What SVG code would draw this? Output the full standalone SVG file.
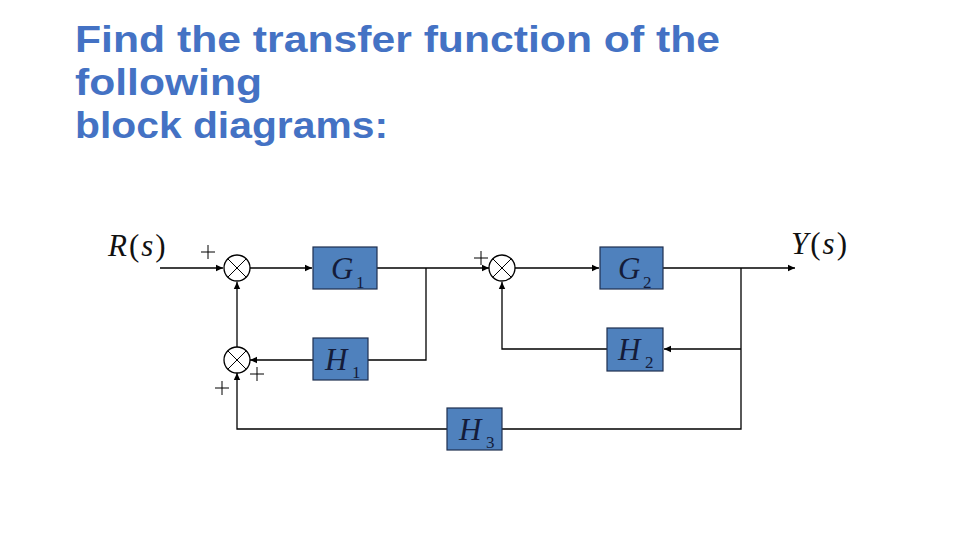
<svg xmlns="http://www.w3.org/2000/svg" width="960" height="540" viewBox="0 0 960 540">
<defs>
<marker id="arr" markerWidth="8" markerHeight="8" refX="7" refY="4" orient="auto" markerUnits="userSpaceOnUse">
<path d="M0,0.8 L7,4 L0,7.2 Z" fill="#000"/>
</marker>
<style>
.title{font-family:"Liberation Sans",Arial,sans-serif;font-weight:bold;font-size:37px;fill:#4472C4}
.box{fill:#4F81BD;stroke:#1F2F4F;stroke-width:1.2}
.lbl{font-family:"Liberation Serif",serif;font-style:italic;font-size:31px;fill:#141C3A}
.sub{font-family:"Liberation Serif",serif;font-size:17px;fill:#141C3A}
.sig{font-family:"Liberation Serif",serif;font-size:31px;fill:#111;letter-spacing:2px}
.ln{fill:none;stroke:#000;stroke-width:1.3}
.sum{fill:#fff;stroke:#000;stroke-width:1.3}
.x{stroke:#000;stroke-width:1}
.pl{stroke:#000;stroke-width:1}
</style>
</defs>
<rect width="960" height="540" fill="#fff"/>
<g id="title">
<text class="title" x="75" y="52" textLength="645" lengthAdjust="spacingAndGlyphs">Find the transfer function of the</text>
<text class="title" x="75" y="95" textLength="187" lengthAdjust="spacingAndGlyphs">following</text>
<text class="title" x="75" y="138" textLength="313" lengthAdjust="spacingAndGlyphs">block diagrams:</text>
</g>
<g id="connectors">
<line class="ln" x1="160" y1="268" x2="223" y2="268" marker-end="url(#arr)"/>
<line class="ln" x1="250" y1="268" x2="312" y2="268" marker-end="url(#arr)"/>
<polyline class="ln" points="377,268 489,268" marker-end="url(#arr)"/>
<line class="ln" x1="515" y1="268" x2="599" y2="268" marker-end="url(#arr)"/>
<line class="ln" x1="663" y1="268" x2="795" y2="268" marker-end="url(#arr)"/>
<polyline class="ln" points="426,268 426,360 368,360"/>
<line class="ln" x1="313" y1="360" x2="250" y2="360" marker-end="url(#arr)"/>
<line class="ln" x1="237" y1="347" x2="237" y2="282" marker-end="url(#arr)"/>
<polyline class="ln" points="741,268 741,429 502,429"/>
<line class="ln" x1="741" y1="349" x2="664" y2="349" marker-end="url(#arr)"/>
<polyline class="ln" points="607,349 502,349 502,282" marker-end="url(#arr)"/>
<polyline class="ln" points="447,429 237,429 237,373" marker-end="url(#arr)"/>
</g>
<g id="sum1">
<circle class="sum" cx="237" cy="268" r="13"/>
<line class="x" x1="227.8" y1="258.8" x2="246.2" y2="277.2"/>
<line class="x" x1="246.2" y1="258.8" x2="227.8" y2="277.2"/>
<path class="pl" d="M201,252 H215 M208,245 V259"/>
</g>
<g id="sum2">
<circle class="sum" cx="502" cy="268" r="13"/>
<line class="x" x1="492.8" y1="258.8" x2="511.2" y2="277.2"/>
<line class="x" x1="511.2" y1="258.8" x2="492.8" y2="277.2"/>
<path class="pl" d="M474,258 H488 M481,251 V265"/>
</g>
<g id="sum3">
<circle class="sum" cx="237" cy="360" r="13"/>
<line class="x" x1="227.8" y1="350.8" x2="246.2" y2="369.2"/>
<line class="x" x1="246.2" y1="350.8" x2="227.8" y2="369.2"/>
<path class="pl" d="M250,374 H264 M257,367 V381"/>
<path class="pl" d="M215,388 H229 M222,381 V395"/>
</g>
<g id="G1">
<rect class="box" x="313" y="247" width="64" height="42"/>
<text class="lbl" x="331" y="279">G</text><text class="sub" x="356" y="288">1</text>
</g>
<g id="G2">
<rect class="box" x="600" y="247" width="63" height="42"/>
<text class="lbl" x="618" y="279">G</text><text class="sub" x="643" y="288">2</text>
</g>
<g id="H1">
<rect class="box" x="313" y="338" width="55" height="42"/>
<text class="lbl" x="325" y="370">H</text><text class="sub" x="352" y="378">1</text>
</g>
<g id="H2">
<rect class="box" x="607" y="328" width="56" height="43"/>
<text class="lbl" x="618" y="360">H</text><text class="sub" x="645" y="368">2</text>
</g>
<g id="H3">
<rect class="box" x="447" y="408" width="55" height="42"/>
<text class="lbl" x="459" y="440">H</text><text class="sub" x="486" y="448">3</text>
</g>
<g id="R">
<text class="sig" x="108" y="256"><tspan font-style="italic">R</tspan>(<tspan font-style="italic">s</tspan>)</text>
</g>
<g id="Y">
<text class="sig" x="791" y="254"><tspan font-style="italic">Y</tspan>(<tspan font-style="italic">s</tspan>)</text>
</g>
</svg>
